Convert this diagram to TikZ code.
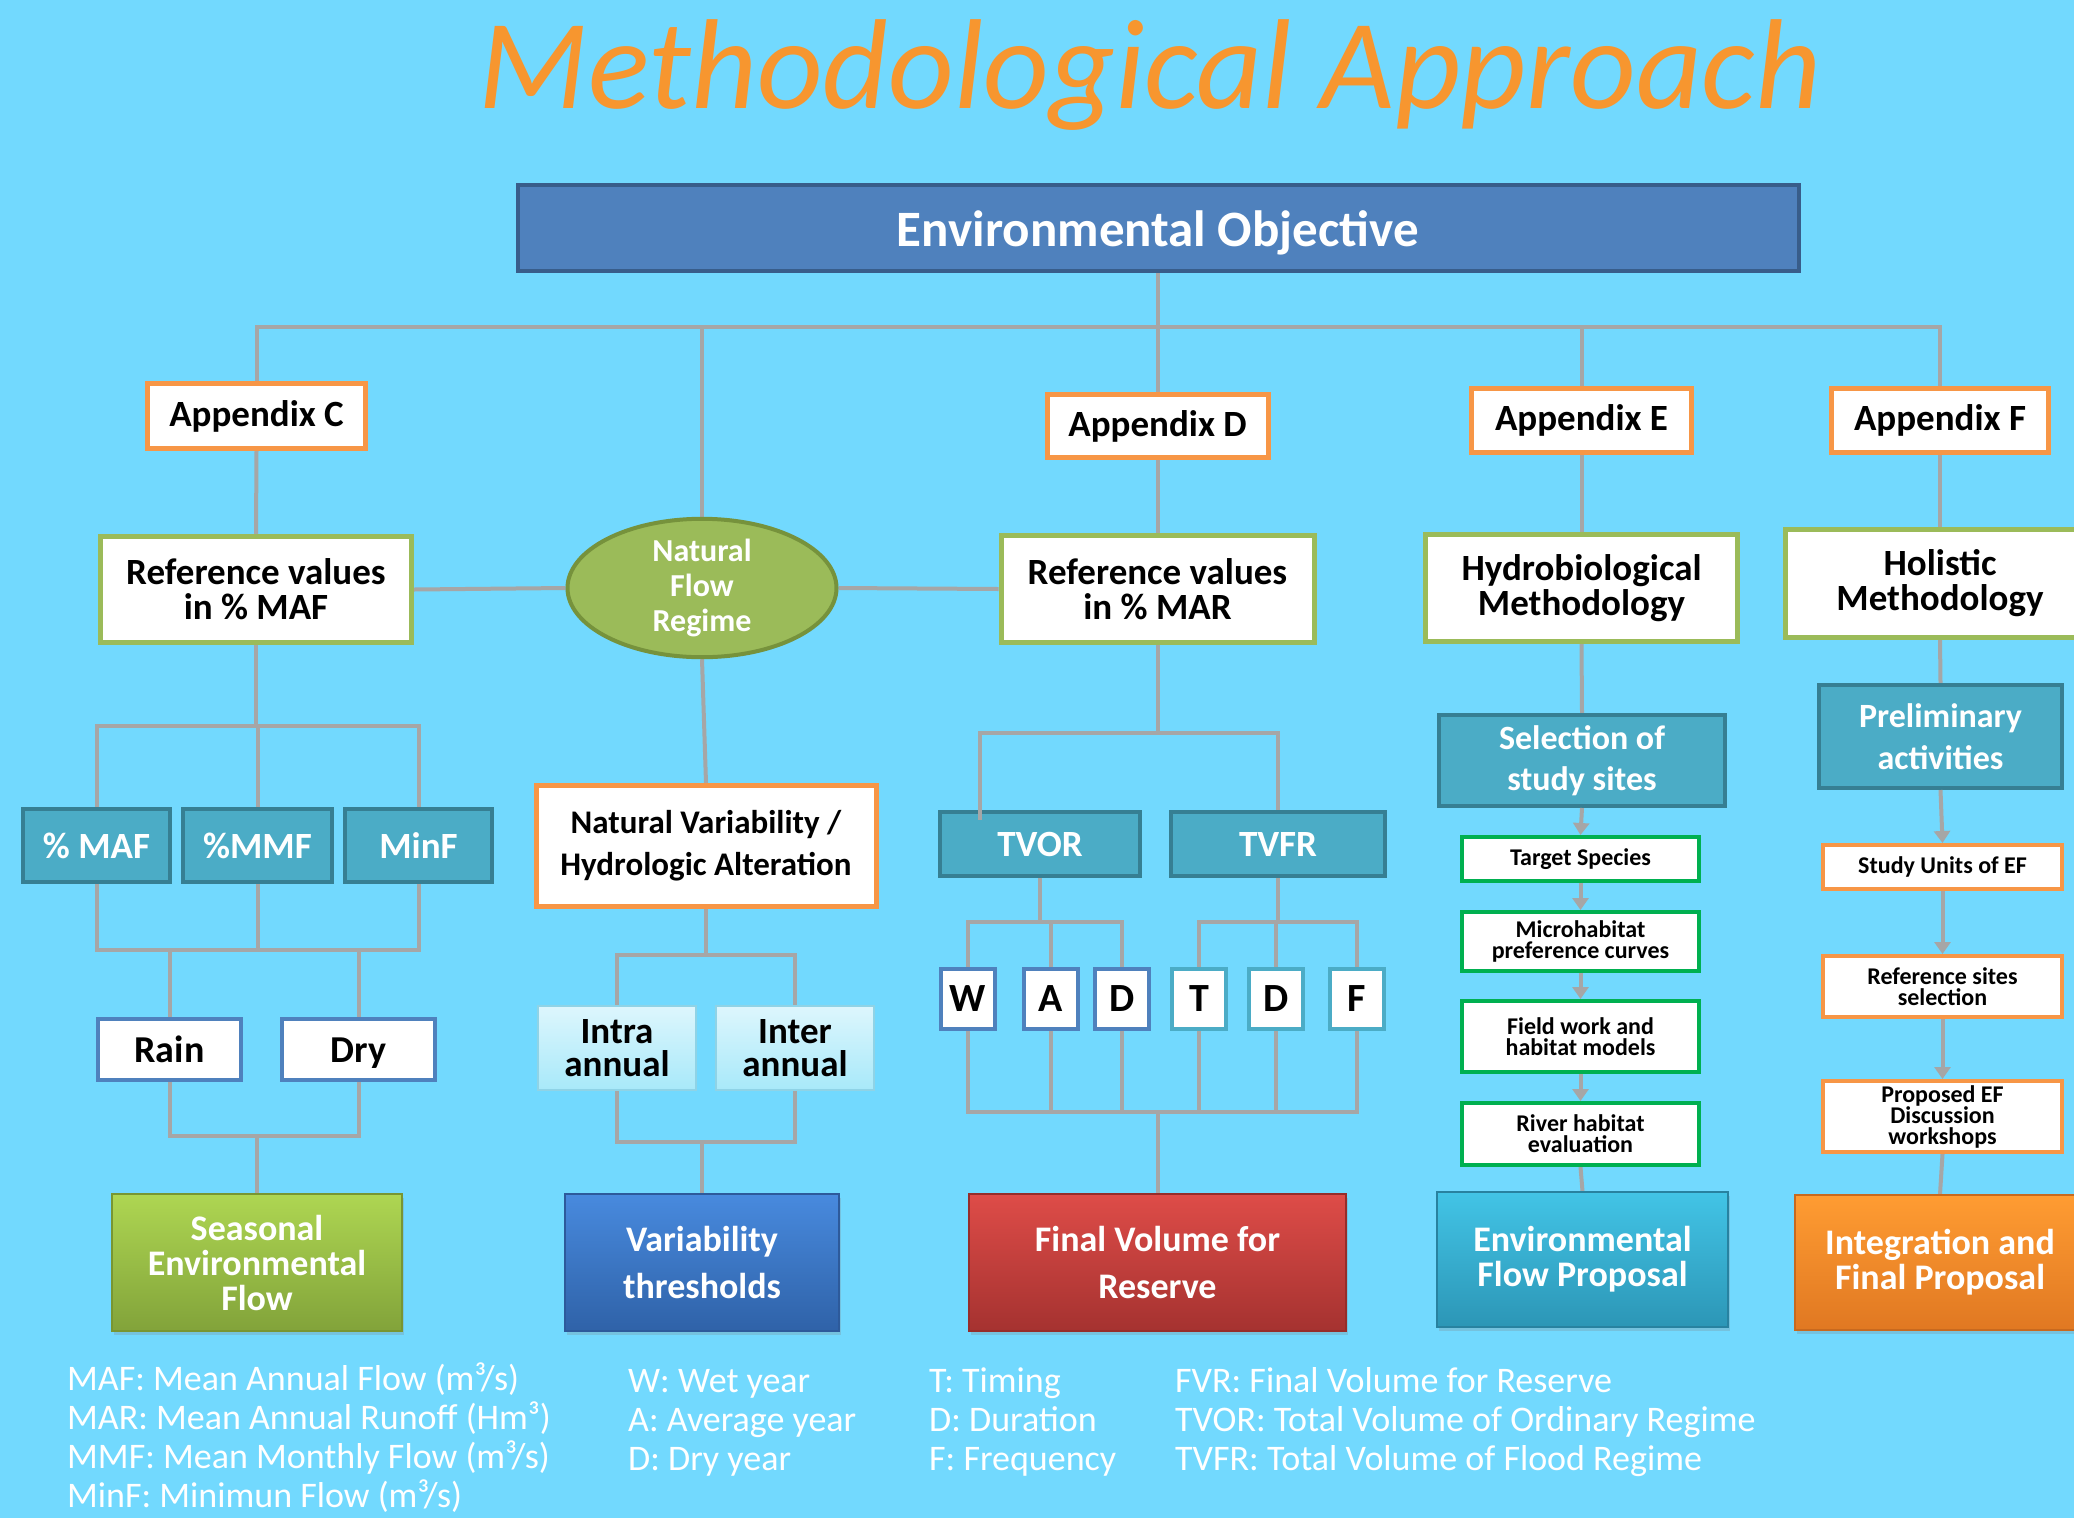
\documentclass[tikz,border=0pt]{standalone}
\usepackage{fontspec}
\setmainfont{Carlito}
\usetikzlibrary{arrows.meta,shapes.geometric,shadows}

\definecolor{bg}{HTML}{72D9FE}
\definecolor{wire}{HTML}{A6A6A6}
\definecolor{titleor}{HTML}{F7962F}
\definecolor{objfill}{HTML}{4F81BD}
\definecolor{objline}{HTML}{385D8A}
\definecolor{orline}{HTML}{F79646}
\definecolor{grline}{HTML}{9BBB59}
\definecolor{grdark}{HTML}{76923C}
\definecolor{tealfill}{HTML}{4BACC6}
\definecolor{tealline}{HTML}{367F93}
\definecolor{blueline}{HTML}{4F81BD}
\definecolor{vivgreen}{HTML}{00B050}
\definecolor{palefill}{HTML}{DDF6FD}
\definecolor{palefillb}{HTML}{A8E9F9}
\definecolor{paleline}{HTML}{8FD3E6}

\pgfdeclarelayer{bglayer}
\pgfdeclarelayer{wires}
\pgfsetlayers{bglayer,wires,main}

% lower a label without changing the size its node sees
\newcommand{\dropby}[2]{\raisebox{-#1}[\height][\depth]{#2}}

\tikzset{
  sz/.style 2 args={minimum width=#1pt, minimum height=#2pt},
  base/.style={rectangle, inner sep=0pt, align=center},
  conn/.style={draw=wire, line width=4pt},
  arr/.style={conn, -{Triangle[length=12pt,width=16pt]}},
  objbox/.style={base, fill=objfill, draw=objline, line width=4pt, text=white,
    font=\bfseries\fontsize{51pt}{52pt}\selectfont},
  appbox/.style={base, fill=white, draw=orline, line width=5pt,
    font=\bfseries\fontsize{37pt}{37pt}\selectfont},
  refbox/.style={base, fill=white, draw=grline, line width=5pt,
    font=\bfseries\fontsize{37pt}{35pt}\selectfont},
  tealbox/.style={base, fill=tealfill, draw=tealline, line width=4pt, text=white,
    font=\bfseries\fontsize{37pt}{41pt}\selectfont},
  whitebox/.style={base, fill=white, draw=blueline, line width=4pt,
    font=\bfseries\fontsize{38pt}{38pt}\selectfont},
  letterbox/.style={whitebox, font=\bfseries\fontsize{40pt}{40pt}\selectfont},
  tletterbox/.style={letterbox, draw=tealfill},
  palebox/.style={base, top color=palefill, bottom color=palefillb, draw=paleline,
    line width=2pt, font=\bfseries\fontsize{37pt}{33pt}\selectfont},
  stepgreen/.style={base, fill=white, draw=vivgreen, line width=4pt,
    font=\bfseries\fontsize{24pt}{21pt}\selectfont},
  steporange/.style={base, fill=white, draw=orline, line width=4pt,
    font=\bfseries\fontsize{24pt}{21pt}\selectfont},
  result/.style={base, text=white, line width=1.5pt,
    drop shadow={shadow xshift=2pt, shadow yshift=-4pt, opacity=0.25},
    font=\bfseries\fontsize{36pt}{35pt}\selectfont},
  legend/.style={anchor=base west, inner sep=0pt, text=white,
    font=\fontsize{36pt}{36pt}\selectfont},
}

\begin{document}
\begin{tikzpicture}[x=1pt,y=-1pt]
\begin{pgfonlayer}{bglayer}
\fill[bg] (0,0) rectangle (2074,1518);
\end{pgfonlayer}
\useasboundingbox (0,0) rectangle (2074,1518);
\clip (0,0) rectangle (2074,1518);

% heading
\node[anchor=base, inner sep=0pt, text=titleor,
  font=\itshape\fontsize{128pt}{128pt}\selectfont] (title) at (1150,108)
  {Methodological Approach};

% bus levels
\coordinate (ytop) at (0,327);
\coordinate (yC1) at (0,726);
\coordinate (yC2) at (0,950);
\coordinate (yC3) at (0,1136);
\coordinate (yN1) at (0,955);
\coordinate (yN2) at (0,1142);
\coordinate (yD1) at (0,733);
\coordinate (yD2) at (0,922);
\coordinate (yD3) at (0,1112);

% ---------- top level ----------
\node[objbox, sz={1281}{86}] (eo) at (1158,227.5) {\dropby{5pt}{Environmental Objective}};

\node[appbox, sz={218}{65}] (appC) at (256.5,416) {Appendix C};
\node[appbox, sz={221}{63}] (appD) at (1157.5,426) {Appendix D};
\node[appbox, sz={220}{64}] (appE) at (1581.5,420) {Appendix E};
\node[appbox, sz={217}{64}] (appF) at (1940,420) {Appendix F};

\node[refbox, sz={311}{106}] (refMAF) at (256,589.5) {Reference values\\in \% MAF};
\node[ellipse, draw=grdark, fill=grline, line width=4pt, minimum width=269pt,
  minimum height=121pt, inner sep=0pt, align=center, text=white,
  font=\bfseries\fontsize{32pt}{35pt}\selectfont] (nfr) at (702,588)
  {Natural\\Flow\\Regime};
\node[refbox, sz={313}{107}] (refMAR) at (1157.5,589) {Reference values\\in \% MAR};
\node[refbox, sz={312}{107}] (hydro) at (1581.5,588) {Hydrobiological\\Methodology};
\node[refbox, sz={309}{108}] (holi) at (1940,583.5) {Holistic\\Methodology};

% ---------- column C ----------
\node[tealbox, sz={147}{73}] (pMAF) at (96.5,845.5) {\% MAF};
\node[tealbox, sz={149}{73}] (pMMF) at (257.5,845.5) {\%MMF};
\node[tealbox, sz={147}{73}] (pMinF) at (418.5,845.5) {MinF};
\node[whitebox, sz={143}{61}] (rain) at (169.5,1049.5) {Rain};
\node[whitebox, sz={153}{61}] (dry) at (358.5,1049.5) {\dropby{4pt}{Dry}};
\node[result, sz={290}{137},
  top color={rgb,255:red,174;green,214;blue,82}, bottom color={rgb,255:red,130;green,163;blue,58},
  draw={rgb,255:red,120;green,150;blue,50}] (seas) at (257,1262.5)
  {Seasonal\\Environmental\\Flow};

% ---------- natural regime column ----------
\node[appbox, sz={340}{121}, font=\bfseries\fontsize{33pt}{42pt}\selectfont] (natvar) at (706,846)
  {Natural Variability /\\Hydrologic Alteration};
\node[palebox, sz={158}{84}] (intra) at (617,1048) {Intra\\annual};
\node[palebox, sz={158}{84}] (inter) at (795,1048) {Inter\\annual};
\node[result, sz={274}{137}, font=\bfseries\fontsize{36pt}{47pt}\selectfont,
  top color={rgb,255:red,72;green,138;blue,222}, bottom color={rgb,255:red,47;green,98;blue,168},
  draw={rgb,255:red,45;green,90;blue,155}] (varth) at (702,1262.5)
  {Variability\\thresholds};

% ---------- column D ----------
\node[tealbox, sz={200}{64}] (tvor) at (1040,844) {TVOR};
\node[tealbox, sz={214}{64}] (tvfr) at (1278,844) {TVFR};
\node[letterbox, sz={54}{60}] (lW) at (968,999) {W};
\node[letterbox, sz={54}{60}] (lA) at (1051,999) {A};
\node[letterbox, sz={54}{60}] (lD) at (1122,999) {D};
\node[tletterbox, sz={54}{60}] (lT) at (1199,999) {T};
\node[tletterbox, sz={54}{60}] (lD2) at (1276,999) {D};
\node[tletterbox, sz={54}{60}] (lF) at (1357,999) {F};
\node[result, sz={377}{137}, font=\bfseries\fontsize{36pt}{47pt}\selectfont,
  top color={rgb,255:red,222;green,76;blue,72}, bottom color={rgb,255:red,165;green,50;blue,48},
  draw={rgb,255:red,150;green,45;blue,42}] (fvr) at (1157.5,1262.5)
  {Final Volume for\\Reserve};

% ---------- column E ----------
\node[tealbox, sz={286}{91}, font=\bfseries\fontsize{34pt}{41pt}\selectfont] (sel) at (1582,760.5)
  {Selection of\\study sites};
\node[stepgreen, sz={237}{44}] (target) at (1580.5,859) {Target Species};
\node[stepgreen, sz={237}{59}] (micro) at (1580.5,941.5) {Microhabitat\\preference curves};
\node[stepgreen, sz={237}{71}] (field) at (1580.5,1036.5) {Field work and\\habitat models};
\node[stepgreen, sz={237}{62}] (river) at (1580.5,1134) {River habitat\\evaluation};
\node[result, sz={291}{135},
  top color={rgb,255:red,66;green,196;blue,230}, bottom color={rgb,255:red,44;green,150;blue,182},
  draw={rgb,255:red,40;green,130;blue,160}] (efp) at (1582.5,1259.5)
  {Environmental\\Flow Proposal};

% ---------- column F ----------
\node[tealbox, sz={243}{103}, font=\bfseries\fontsize{34pt}{42pt}\selectfont] (prelim) at (1940.5,736.5)
  {Preliminary\\activities};
\node[steporange, sz={239}{44}] (study) at (1942.5,867) {Study Units of EF};
\node[steporange, sz={239}{61}] (refs) at (1942.5,986.5) {Reference sites\\selection};
\node[steporange, sz={239}{71}] (prop) at (1942.5,1116.5) {Proposed EF\\Discussion\\workshops};
\node[result, sz={290}{135},
  top color={rgb,255:red,255;green,156;blue,50}, bottom color={rgb,255:red,224;green,120;blue,34},
  draw={rgb,255:red,200;green,105;blue,30}] (integ) at (1940,1262.5)
  {Integration and\\Final Proposal};

% feed point of the ordinary-regime branch, just inside the TVOR box
\coordinate (tvfeed) at ([xshift=-60pt,yshift=-10pt]tvor.north);

% ---------- connectors, kept behind the boxes ----------
\begin{pgfonlayer}{wires}
% trunk and top bus
\draw[conn] (eo.south) -- (eo.south |- ytop);
\draw[conn] (appC.north) |- (appF.north |- ytop) -- (appF.north);
\draw[conn] (nfr.north) -- (nfr.north |- ytop);
\draw[conn] (appD.north) -- (appD.north |- ytop);
\draw[conn] (appE.north) -- (appE.north |- ytop);

% appendix to method
\draw[conn] (appC.south) -- (refMAF.north);
\draw[conn] (appD.south) -- (refMAR.north);
\draw[conn] (appE.south) -- (hydro.north);
\draw[conn] (appF.south) -- (holi.north);
\draw[conn] (refMAF.east) -- (nfr.west);
\draw[conn] (nfr.east) -- (refMAR.west);

% column C
\draw[conn] (refMAF.south) -- (refMAF.south |- yC1);
\draw[conn] (pMAF.north) |- (pMinF.north |- yC1) -- (pMinF.north);
\draw[conn] (pMMF.north) -- (pMMF.north |- yC1);
\draw[conn] (pMAF.south) |- (pMinF.south |- yC2) -- (pMinF.south);
\draw[conn] (pMMF.south) -- (pMMF.south |- yC2);
\draw[conn] (rain.north) -- (rain.north |- yC2);
\draw[conn] (dry.north) -- (dry.north |- yC2);
\draw[conn] (rain.south) |- (dry.south |- yC3) -- (dry.south);
\draw[conn] (seas.north) -- (seas.north |- yC3);

% natural regime column
\draw[conn] (nfr.south) -- (natvar.north);
\draw[conn] (natvar.south) -- (natvar.south |- yN1);
\draw[conn] (intra.north) |- (inter.north |- yN1) -- (inter.north);
\draw[conn] (intra.south) |- (inter.south |- yN2) -- (inter.south);
\draw[conn] (varth.north) -- (varth.north |- yN2);

% column D
\draw[conn] (refMAR.south) -- (refMAR.south |- yD1);
\draw[conn] (tvfeed) |- (tvfr.north |- yD1) -- (tvfr.north);
\draw[conn] (lW.north) |- (lD.north |- yD2) -- (lD.north);
\draw[conn] (lA.north) -- (lA.north |- yD2);
\draw[conn] (tvor.south) -- (tvor.south |- yD2);
\draw[conn] (lT.north) |- (lF.north |- yD2) -- (lF.north);
\draw[conn] (lD2.north) -- (lD2.north |- yD2);
\draw[conn] (tvfr.south) -- (tvfr.south |- yD2);
\draw[conn] (lW.south) |- (lF.south |- yD3) -- (lF.south);
\draw[conn] (lA.south) -- (lA.south |- yD3);
\draw[conn] (lD.south) -- (lD.south |- yD3);
\draw[conn] (lT.south) -- (lT.south |- yD3);
\draw[conn] (lD2.south) -- (lD2.south |- yD3);
\draw[conn] (fvr.north) -- (fvr.north |- yD3);

% column E
\draw[conn] (hydro.south) -- (sel.north);
\draw[conn] (river.south) -- (efp.north);

% column F
\draw[conn] (holi.south) -- (prelim.north);
\draw[conn] (prop.south) -- (integ.north);
\end{pgfonlayer}

% the feed line runs a little over the TVOR frame
\draw[conn] (tvfeed) -- (tvfeed |- tvor.north);

% step arrows (tips sit on the boxes)
\draw[arr] (sel.south) -- (target.north);
\draw[arr] (target.south) -- (micro.north);
\draw[arr] (micro.south) -- (field.north);
\draw[arr] (field.south) -- (river.north);
\draw[arr] (prelim.south) -- (study.north);
\draw[arr] (study.south) -- (refs.north);
\draw[arr] (refs.south) -- (prop.north);

% ---------- abbreviations ----------
\node[legend] (l1) at (67,1390) {MAF: Mean Annual Flow (m³/s)};
\node[legend] (l2) at (67,1429) {MAR: Mean Annual Runoff (Hm³)};
\node[legend] (l3) at (67,1468) {MMF: Mean Monthly Flow (m³/s)};
\node[legend] (l4) at (67,1507) {MinF: Minimun Flow (m³/s)};
\node[legend] (l5) at (628,1392) {W: Wet year};
\node[legend] (l6) at (628,1431) {A: Average year};
\node[legend] (l7) at (628,1470) {D: Dry year};
\node[legend] (l8) at (929,1392) {T: Timing};
\node[legend] (l9) at (929,1431) {D: Duration};
\node[legend] (l10) at (929,1470) {F: Frequency};
\node[legend] (l11) at (1175,1392) {FVR: Final Volume for Reserve};
\node[legend] (l12) at (1175,1431) {TVOR: Total Volume of Ordinary Regime};
\node[legend] (l13) at (1175,1470) {TVFR: Total Volume of Flood Regime};
\end{tikzpicture}
\end{document}
